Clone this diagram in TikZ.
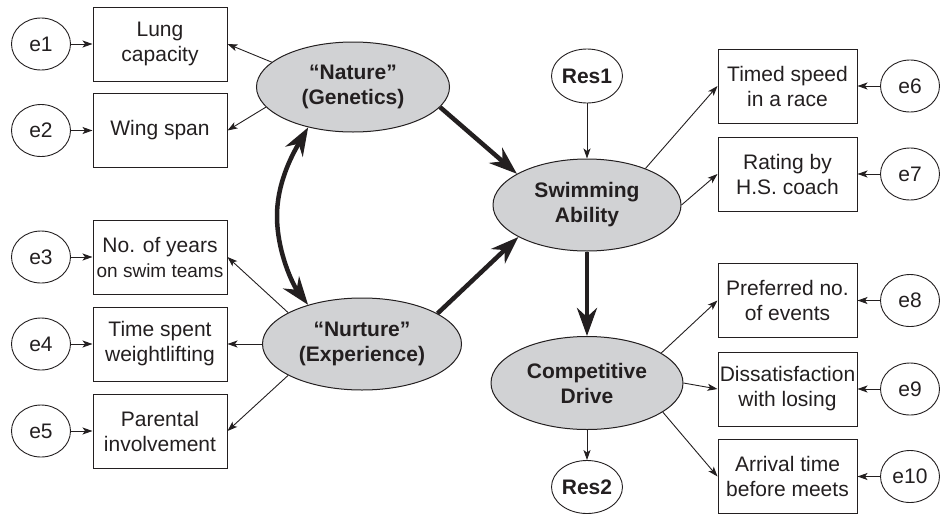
\documentclass[tikz,border=0pt]{standalone}
\usepackage{fontspec}
\setmainfont{Liberation Sans}
\usetikzlibrary{shapes.geometric,arrows.meta}
\definecolor{ink}{HTML}{231F20}
\definecolor{latfill}{HTML}{D1D2D4}
\begin{document}
\begin{tikzpicture}[x=1pt,y=-1pt,
  every node/.style={text=ink},
  txt/.style={font=\fontsize{21}{25}\selectfont},
  boxl/.style={txt, draw=ink, line width=1pt, minimum width=134pt, minimum height=74pt, inner sep=0pt, align=center},
  boxr/.style={boxl, minimum width=139pt},
  err/.style={txt, ellipse, draw=ink, line width=0.9pt, minimum width=59pt, minimum height=52pt, inner sep=0pt},
  lat/.style={ellipse, draw=ink, fill=latfill, line width=1pt, inner sep=0pt, align=center, font=\fontsize{21}{25}\selectfont\bfseries},
  resid/.style={ellipse, draw=ink, line width=0.9pt, minimum width=68pt, minimum height=54pt, inner sep=0pt, font=\fontsize{21}{25}\selectfont\bfseries},
  thinarr/.style={draw=ink, line width=0.9pt, -{Stealth[length=10pt,width=7pt,inset=2.5pt]}},
  bigtip/.style={Stealth[length=28pt,width=20pt,inset=9pt]},
  bigarr/.style={draw=ink, line width=4.5pt, -{Stealth[length=28pt,width=20pt,inset=9pt]}}]
\useasboundingbox (0,0) rectangle (946,515);

% left boxes
\node[boxl] (lung) at (160,44) {Lung\\capacity};
\node[boxl] (wing) at (160,130.5) {Wing span};
\node[boxl] (years) at (160,257) {No. of years\\{\fontsize{19}{25}\selectfont on swim teams}};
\node[boxl] (time) at (160,344) {Time spent\\weightlifting};
\node[boxl] (par) at (160,431) {Parental\\involvement};

% left errors
\node[err] (e1) at (41,44) {e1};
\node[err] (e2) at (41,130.5) {e2};
\node[err] (e3) at (41,257) {e3};
\node[err] (e4) at (41,344) {e4};
\node[err] (e5) at (41,431) {e5};

% right boxes
\node[boxr] (timed) at (787.5,86) {Timed speed\\in a race};
\node[boxr] (rating) at (787.5,174) {Rating by\\H.S. coach};
\node[boxr] (pref) at (787.5,300.5) {Preferred no.\\of events};
\node[boxr] (dis) at (787.5,389) {Dissatisfaction\\with losing};
\node[boxr] (arr) at (787.5,476.5) {Arrival time\\before meets};

% right errors
\node[err] (e6) at (910,86) {e6};
\node[err] (e7) at (910,174) {e7};
\node[err] (e8) at (910,300.5) {e8};
\node[err] (e9) at (910,389) {e9};
\node[err] (e10) at (910,476.5) {e10};

% latent variables
\node[lat, minimum width=193pt, minimum height=90pt] (nat) at (353,87) {“Nature”\\(Genetics)};
\node[lat, minimum width=199pt, minimum height=92pt] (nur) at (362,344) {“Nurture”\\(Experience)};
\node[lat, minimum width=188pt, minimum height=92pt] (swim) at (587,205) {Swimming\\Ability};
\node[lat, minimum width=192pt, minimum height=93pt] (comp) at (587,383) {Competitive\\Drive};

% residuals
\node[resid] (res1) at (587,76) {Res1};
\node[resid, minimum height=53pt] (res2) at (587,487) {Res2};

% error arrows
\draw[thinarr] (e1) -- (lung);
\draw[thinarr] (e2) -- (wing);
\draw[thinarr] (e3) -- (years);
\draw[thinarr] (e4) -- (time);
\draw[thinarr] (e5) -- (par);
\draw[thinarr] (e6) -- (timed);
\draw[thinarr] (e7) -- (rating);
\draw[thinarr] (e8) -- (pref);
\draw[thinarr] (e9) -- (dis);
\draw[thinarr] (e10) -- (arr);

% loadings
\draw[thinarr] (nat.163) -- (lung.east);
\draw[thinarr] (nat.193) -- (wing.east);
\draw[thinarr] (nur.157) -- (years.east);
\draw[thinarr] (nur.west) -- (time.east);
\draw[thinarr] (nur.203) -- (par.east);
\draw[thinarr] (swim.32) -- (timed.west);
\draw[thinarr] (swim.east) -- (rating.west);
\draw[thinarr] (comp.22) -- (pref.west);
\draw[thinarr] (comp.east) -- (dis.west);
\draw[thinarr] (comp.339) -- (arr.west);

% residual arrows
\draw[thinarr] (res1) -- (swim);
\draw[thinarr] (comp) -- (res2);

% structural paths
\draw[bigarr] (nat.347) -- (swim.156);
\draw[bigarr] (nur.22) -- (swim.205);
\draw[bigarr] (swim) -- (comp);

% correlation
\coordinate (mid) at (277,216);
\draw[draw=ink, line width=4.5pt, {Stealth[length=28pt,width=20pt,inset=9pt]}-{Stealth[length=28pt,width=20pt,inset=9pt]}]
  (nat.222) .. controls (295,150) and (277,180) .. (mid) .. controls (277,252) and (293,285) .. (nur.144);
\end{tikzpicture}
\end{document}
